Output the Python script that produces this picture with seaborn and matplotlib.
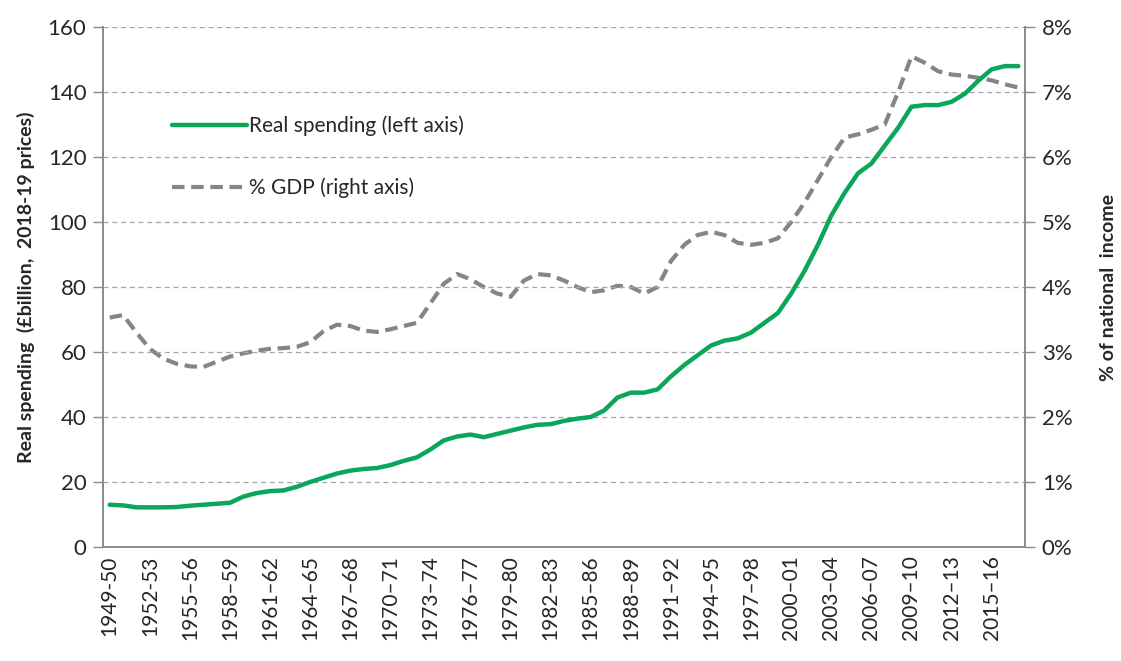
import numpy as np
import pandas as pd
import seaborn as sns
import matplotlib.pyplot as plt
from matplotlib.ticker import MultipleLocator, FuncFormatter

# Catégories : exercices budgétaires 1949-50 à 2017-18
start_years = list(range(1949, 2018))
years = [f"{y}–{(y + 1) % 100:02d}" for y in start_years]
years[0] = "1949-50"
years[3] = "1952-53"

# Dépenses réelles (milliards de £, prix 2018-19)
real_spending = [
    13.0, 12.8, 12.2, 12.2, 12.2, 12.3, 12.7, 13.0, 13.3, 13.6,
    15.5, 16.6, 17.2, 17.4, 18.5, 20.0, 21.3, 22.6, 23.5, 24.0,
    24.3, 25.2, 26.5, 27.6, 30.0, 32.8, 34.0, 34.6, 33.8, 34.8,
    35.8, 36.8, 37.6, 37.8, 38.8, 39.5, 40.0, 42.0, 46.0, 47.5,
    47.5, 48.5, 52.5, 56.0, 59.0, 62.0, 63.5, 64.2, 66.0, 69.0,
    72.0, 78.0, 85.0, 93.0, 102.0, 109.0, 115.0, 118.0, 123.5, 129.0,
    135.5, 136.0, 136.0, 137.0, 139.5, 143.5, 147.0, 148.0, 148.0,
]

# Part du revenu national (%)
pct_gdp = [
    3.53, 3.57, 3.30, 3.05, 2.90, 2.82, 2.78, 2.77, 2.85, 2.93,
    2.98, 3.02, 3.05, 3.06, 3.08, 3.15, 3.32, 3.42, 3.40, 3.33,
    3.31, 3.35, 3.40, 3.45, 3.75, 4.05, 4.20, 4.12, 4.00, 3.90,
    3.85, 4.10, 4.20, 4.18, 4.10, 4.00, 3.92, 3.95, 4.02, 4.00,
    3.90, 4.00, 4.40, 4.65, 4.80, 4.85, 4.80, 4.68, 4.65, 4.68,
    4.75, 5.00, 5.30, 5.65, 6.00, 6.30, 6.35, 6.42, 6.50, 7.00,
    7.55, 7.45, 7.32, 7.27, 7.25, 7.22, 7.18, 7.12, 7.07,
]

df = pd.DataFrame({"idx": np.arange(len(years)), "year": years,
                   "real": real_spending, "gdp": pct_gdp})

sns.set_style("white")
plt.rcParams["font.family"] = ["Lato", "DejaVu Sans"]

green = "#0AA65A"
grey = "#858585"
axis_col = "#8C8C8C"
text_col = "#262626"

fig = plt.figure(figsize=(11.21, 6.61), dpi=100)
ax = fig.add_axes([0.0919, 0.1725, 0.8225, 0.7865])
ax2 = ax.twinx()

sns.lineplot(data=df, x="idx", y="real", ax=ax, color=green, linewidth=3.2,
             label="Real spending (left axis)", legend=False, zorder=3,
             solid_capstyle="round", solid_joinstyle="round")
sns.lineplot(data=df, x="idx", y="gdp", ax=ax2, color=grey, linewidth=3.0,
             label="% GDP (right axis)", legend=False, zorder=2)
ax2.lines[0].set_dashes((3, 1.6))

# le vert doit passer au-dessus du gris
ax.set_zorder(ax2.get_zorder() + 1)
ax.patch.set_visible(False)

ax.set_xlim(-0.5, len(years) - 0.5)
ax.set_ylim(0, 160)
ax2.set_ylim(0, 8)
ax.yaxis.set_major_locator(MultipleLocator(20))
ax2.yaxis.set_major_locator(MultipleLocator(1))
ax2.yaxis.set_major_formatter(FuncFormatter(lambda v, p: f"{v:.0f}%"))

ax.set_xticks(df["idx"][::3])
ax.set_xticklabels(years[::3], rotation=90)
ax.set_xticks(np.arange(-0.5, len(years)), minor=True)
ax.tick_params(axis="x", which="major", length=0, pad=6, labelsize=15, labelcolor=text_col)
ax.tick_params(axis="x", which="minor", length=6, width=1, color=axis_col, direction="out")
ax.tick_params(axis="y", length=7, width=1, color=axis_col, labelsize=16, labelcolor=text_col, pad=5)
ax2.tick_params(axis="y", length=7, width=1, color=axis_col, labelsize=16, labelcolor=text_col, pad=5)

ax.grid(axis="y", color="#A6A6A6", linestyle=(0, (4, 3)), linewidth=0.9)
ax.set_axisbelow(True)

for a in (ax, ax2):
    a.spines["top"].set_visible(False)
    for s in ("left", "right", "bottom"):
        a.spines[s].set_color(axis_col)
        a.spines[s].set_linewidth(1.3)

ax.set_xlabel("")
ax.set_ylabel("Real spending  (£billion,  2018-19 prices)", fontsize=14,
              fontweight="bold", color=text_col, labelpad=9)
ax2.set_ylabel("% of national  income", fontsize=14, fontweight="bold",
               color=text_col, labelpad=20)

handles = ax.get_lines()[:1] + ax2.get_lines()[:1]
leg = ax.legend(handles, [h.get_label() for h in handles], loc="center left",
                bbox_to_anchor=(0.075, 0.75), frameon=False, fontsize=15,
                handlelength=3.6, handletextpad=0.1, labelspacing=2.0,
                borderpad=0, borderaxespad=0)
for t in leg.get_texts():
    t.set_color(text_col)

fig.savefig("out.png", dpi=100)
